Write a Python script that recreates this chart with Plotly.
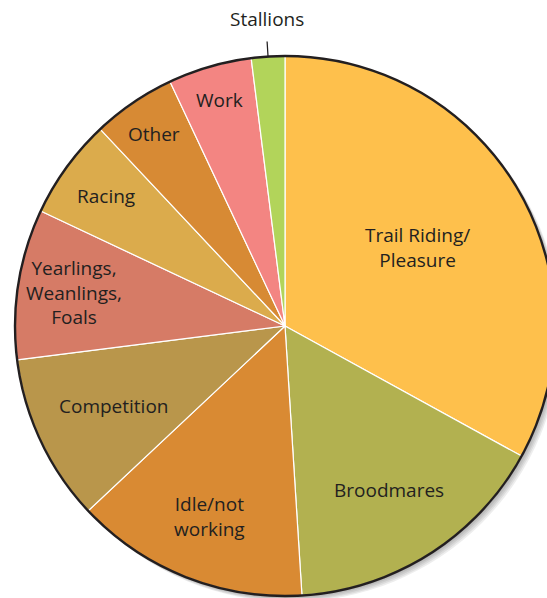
import math
import plotly.graph_objects as go

# Share of horses by primary use (%)
uses = ['Trail Riding/<br>Pleasure', 'Broodmares', 'Idle/not<br>working', 'Competition',
        'Yearlings,<br>Weanlings,<br>Foals', 'Racing', 'Other', 'Work', 'Stallions']
shares = [33, 16, 14, 10, 9, 6, 5, 5, 2]

colors = ['#FEC04C', '#B2B150', '#D98A33', '#B9964B', '#D67B66',
          '#DBAB4C', '#D78A34', '#F38582', '#B2D45A']
# how far out (fraction of radius) each label sits
label_r = [0.57, 0.72, 0.76, 0.70, 0.79, 0.82, 0.86, 0.87, None]

W, H = 556, 598
L, T = 15, 56
D = 540  # pie diameter in px

fig = go.Figure()
fig.add_trace(go.Pie(
    labels=uses,
    values=shares,
    sort=False,
    direction='clockwise',
    rotation=0,
    textinfo='none',
    hoverinfo='label+percent',
    marker=dict(colors=colors, line=dict(color='white', width=1.2)),
    showlegend=False,
))

# soft drop shadow down-right
for k in range(1, 6):
    fig.add_shape(type='circle', xref='paper', yref='paper',
                  x0=(k * 1.2) / D, y0=-(k * 1.2) / D,
                  x1=1 + (k * 1.2) / D, y1=1 - (k * 1.2) / D,
                  fillcolor='rgba(0,0,0,0.07)', line=dict(width=0), layer='below')

# outer rim
fig.add_shape(type='circle', xref='paper', yref='paper', x0=0, y0=0, x1=1, y1=1,
              line=dict(color='#231F20', width=2.4), layer='above')

txt = '#231F20'
font = dict(family='Open Sans', size=19, color=txt)
total = sum(shares)
cum = 0
for name, v, f in zip(uses, shares, label_r):
    mid = math.radians((cum + v / 2) / total * 360)
    cum += v
    if f is None:
        # small slice: label outside with a leader line
        x0 = 0.5 + 0.5 * math.sin(mid)
        y0 = 0.5 + 0.5 * math.cos(mid)
        ext = 15 / D
        x1 = x0 + ext * math.sin(mid)
        y1 = y0 + ext * math.cos(mid)
        fig.add_shape(type='line', xref='paper', yref='paper',
                      x0=x0, y0=y0, x1=x1, y1=y1,
                      line=dict(color=txt, width=1.3))
        fig.add_annotation(x=x1, y=y0 + 38 / D, xref='paper', yref='paper',
                           text=name, showarrow=False,
                           xanchor='center', yanchor='middle', font=font)
        continue
    fig.add_annotation(
        x=0.5 + 0.5 * f * math.sin(mid),
        y=0.5 + 0.5 * f * math.cos(mid),
        xref='paper', yref='paper',
        text=name, showarrow=False, align='center',
        xanchor='center', yanchor='middle', font=font,
    )

fig.update_layout(
    width=W, height=H,
    margin=dict(l=L, r=W - L - D, t=T, b=H - T - D),
    paper_bgcolor='white',
    plot_bgcolor='white',
)

fig.write_html('out.html', config={'displayModeBar': False}, post_script=(
    "document.body.style.margin='0';document.body.style.overflow='hidden';"))
